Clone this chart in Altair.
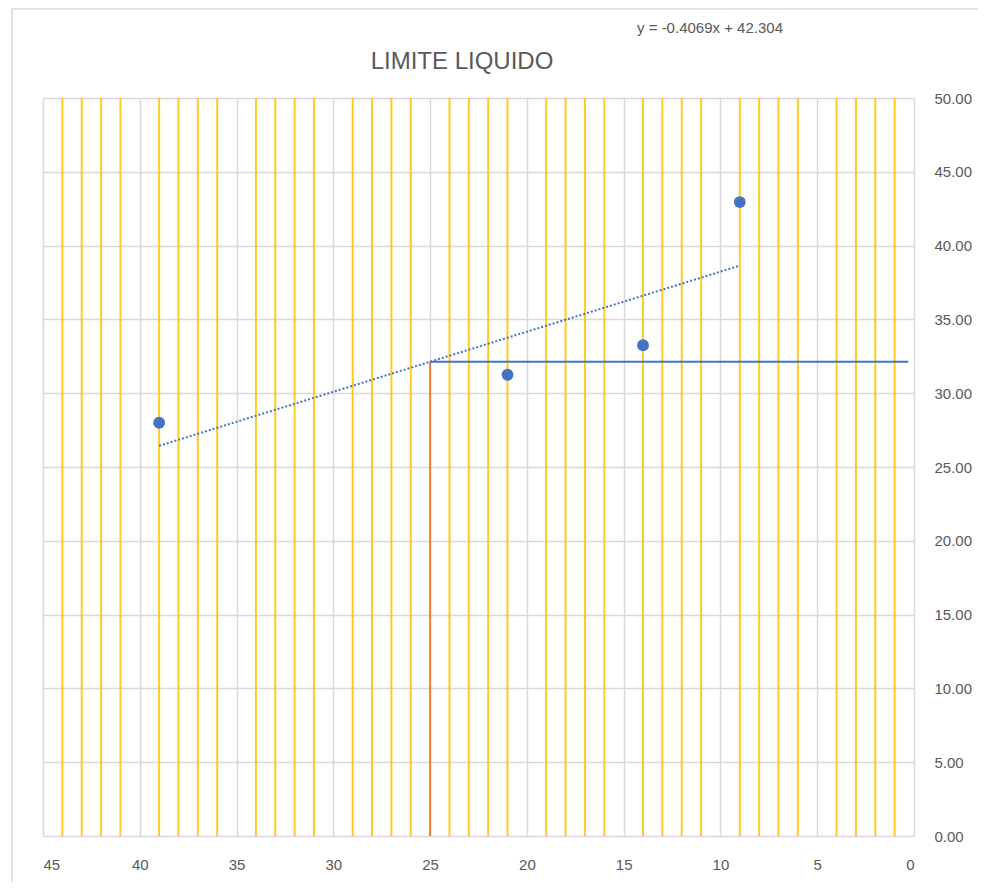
import altair as alt
import pandas as pd

# Data
golpes = [39, 21, 14, 9]
humedad = [28.0, 31.25, 33.25, 42.95]
slope = -0.4069
intercept = 42.304
trend_x = [39, 9]
ll_x = 25
ll_end_x = 0.3

x_ticks = [45, 40, 35, 30, 25, 20, 15, 10, 5, 0]
y_ticks = [0, 5, 10, 15, 20, 25, 30, 35, 40, 45, 50]
yellow_lines = [44, 43, 42, 41, 39, 38, 37, 36, 34, 33, 32, 31, 29, 28, 27, 26,
                24, 23, 22, 21, 19, 18, 17, 16, 14, 13, 12, 11, 9, 8, 7, 6,
                4, 3, 2, 1]

FONT = "Liberation Sans Narrow, Liberation Sans, sans-serif"
GRAY_TXT = "#595959"
BLUE = "#4472C4"

pts = pd.DataFrame({"x": golpes, "y": humedad})
trend = pd.DataFrame({"x": trend_x, "y": [intercept + slope * v for v in trend_x]})
ll_y = intercept + slope * ll_x
yel = pd.DataFrame({"x": yellow_lines})
vline = pd.DataFrame({"x": [ll_x], "y": [0], "y2": [ll_y]})
hline = pd.DataFrame({"x": [ll_x], "x2": [ll_end_x], "y": [ll_y]})

xscale = alt.Scale(domain=[0, 45], reverse=True, nice=False, zero=False)
yscale = alt.Scale(domain=[0, 50], nice=False)

xaxis = alt.Axis(values=x_ticks, grid=True, gridColor="#D9D9D9", gridWidth=1.5,
                 ticks=False, domain=False, labelPadding=21, title=None,
                 labelFont=FONT, labelFontSize=15, labelColor=GRAY_TXT)
yaxis = alt.Axis(values=y_ticks, orient="right", format=".2f", grid=True,
                 gridColor="#D9D9D9", gridWidth=1.5, ticks=False, domain=False,
                 labelPadding=20, title=None, labelFont=FONT, labelFontSize=15,
                 labelColor=GRAY_TXT)

frame = alt.Chart(pd.DataFrame({"a": [0]})).mark_rect(
    fill=None, stroke="#D9D9D9", strokeWidth=1.5
).encode(x=alt.value(-31), x2=alt.value(1000), y=alt.value(-89), y2=alt.value(795))

base_pts = alt.Chart(pts).mark_circle(size=140, color=BLUE, opacity=1).encode(
    x=alt.X("x:Q", scale=xscale, axis=xaxis),
    y=alt.Y("y:Q", scale=yscale, axis=yaxis),
)

yellow = alt.Chart(yel).mark_rule(color="#FFC000", strokeWidth=2, opacity=0.85).encode(
    x=alt.X("x:Q", scale=xscale),
    y=alt.value(0),
    y2=alt.value(738),
)

orange = alt.Chart(vline).mark_rule(color="#ED7D31", strokeWidth=2).encode(
    x=alt.X("x:Q", scale=xscale),
    y=alt.Y("y:Q", scale=yscale),
    y2="y2:Q",
)

blue_h = alt.Chart(hline).mark_rule(color=BLUE, strokeWidth=2).encode(
    x=alt.X("x:Q", scale=xscale),
    x2="x2:Q",
    y=alt.Y("y:Q", scale=yscale),
)

trend_line = alt.Chart(trend).mark_line(color=BLUE, strokeWidth=2, strokeDash=[2, 2]).encode(
    x=alt.X("x:Q", scale=xscale),
    y=alt.Y("y:Q", scale=yscale),
)

title = alt.Chart(pd.DataFrame({"t": ["LIMITE LIQUIDO"]})).mark_text(
    font=FONT, fontSize=24, color=GRAY_TXT, align="center", baseline="middle"
).encode(x=alt.value(419), y=alt.value(-36), text="t:N")

eq = alt.Chart(pd.DataFrame({"t": [f"y = {slope}x + {intercept}"]})).mark_text(
    font=FONT, fontSize=15, color=GRAY_TXT, align="center", baseline="middle"
).encode(x=alt.value(667), y=alt.value(-70), text="t:N")

chart = alt.layer(frame, yellow, orange, trend_line, blue_h, base_pts, title, eq).properties(
    width=871, height=738,
    autosize=alt.AutoSizeParams(type="none"),
    padding={"left": 35, "top": 90, "right": 64, "bottom": 46},
).configure_view(stroke="#D9D9D9", strokeWidth=1.5).configure(background="white")

chart.save("out.html", embed_options={"renderer": "svg", "actions": False})
